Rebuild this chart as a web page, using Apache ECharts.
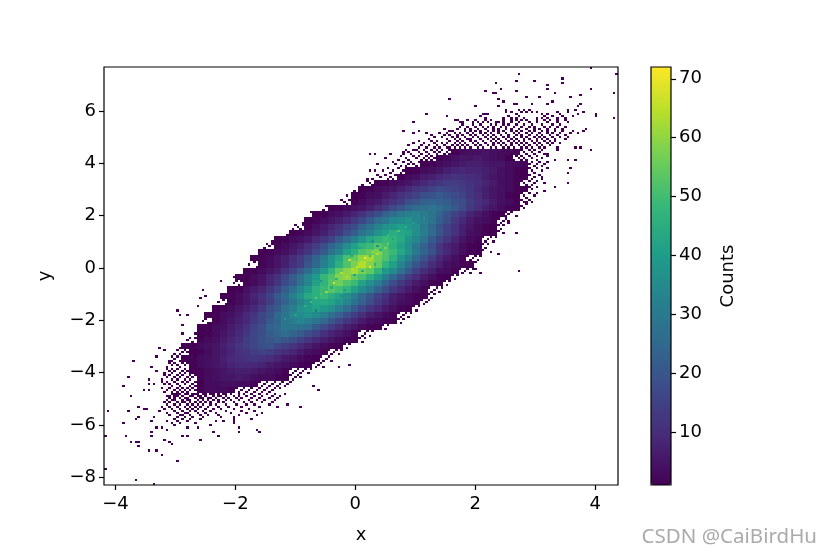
<!DOCTYPE html>
<html><head><meta charset="utf-8">
<style>html,body{margin:0;padding:0;background:#fff}#c{width:831px;height:554px}</style>
<script src="https://cdn.jsdelivr.net/npm/echarts@6/dist/echarts.min.js"></script>
</head><body><div id="c"></div>
<script>
const xTicks=[-4,-2,0,2,4];
const yTicks=[-8,-6,-4,-2,0,2,4,6];
const cbTicks=[10,20,30,40,50,60,70];
const viridis=['#440154','#482878','#3e4989','#31688e','#26828e','#1f9e89','#35b779','#6ece58','#b5de2b','#fde725'];
const xRange=[-4.19,4.38], yRange=[-8.3,7.69], countRange=[1,72];
const binsPerSide=200, blockBins=3;
// block rows: [row, firstColumn, counts...]; each block spans 3x3 histogram bins
const blockRows=[
[13,45,1,3,4,4,5,4,3,3,2],
[14,43,2,3,4,5,5,6,5,4,3,1],
[15,41,1,2,3,4,5,6,7,7,6,5,5,3,3,2],
[16,39,1,2,3,4,5,7,8,9,8,8,7,6,4,3,2,1],
[17,37,0,2,3,4,6,7,9,10,12,11,10,9,7,5,4,3,2,1],
[18,35,1,2,3,4,5,7,9,11,12,14,14,13,11,10,8,6,4,3,2,0],
[19,33,1,2,3,4,5,7,9,12,13,15,17,16,15,14,12,9,7,5,4,3,2,1],
[20,32,1,2,3,4,6,8,11,13,15,18,19,21,19,17,15,12,10,7,5,4,2,1],
[21,31,0,2,3,5,6,9,11,14,18,20,23,24,23,22,19,18,14,11,9,6,4,3,2,0],
[22,29,1,2,3,4,5,7,10,13,17,20,24,26,27,29,26,24,21,17,13,10,7,5,3,2,1],
[23,27,1,2,3,4,6,8,11,15,18,23,26,30,31,33,30,28,24,19,15,12,8,6,4,2,1],
[24,26,1,2,3,5,7,9,13,16,21,26,29,34,35,37,34,31,28,22,18,13,9,6,4,3,2,0],
[25,25,0,2,4,6,8,11,15,18,24,28,33,37,39,41,38,36,30,25,19,15,11,7,5,3,2,1],
[26,24,1,2,3,5,7,10,13,18,22,28,32,38,41,45,43,42,36,31,26,20,15,11,7,4,3,2,1],
[27,22,1,2,3,4,6,9,12,15,21,26,32,37,43,46,49,47,44,38,34,27,21,16,12,8,5,3,2,0],
[28,21,0,2,3,5,7,10,14,18,24,29,36,41,47,49,53,50,46,41,36,29,23,18,12,8,6,3,2,1],
[29,20,1,2,3,4,6,9,12,17,21,28,33,41,46,52,54,58,52,49,43,37,30,24,19,13,9,6,4,2,1],
[30,19,1,2,3,5,7,10,14,18,24,30,37,43,51,55,60,62,56,52,46,38,32,25,19,14,9,6,4,2,0],
[31,19,0,2,3,5,7,11,14,20,25,32,38,46,52,58,64,59,55,47,41,33,26,20,15,10,7,4,3,2,1],
[32,18,1,2,3,5,7,11,15,21,26,33,39,47,54,59,62,57,54,47,40,35,27,21,15,10,7,4,3,2,0],
[33,17,1,2,3,5,8,11,16,22,27,34,40,48,52,58,60,55,51,45,39,31,25,19,14,10,6,4,2,1],
[34,17,0,2,3,5,8,12,17,21,28,34,42,47,53,56,52,49,42,36,31,24,18,13,9,6,4,2,1],
[35,16,1,2,4,6,8,12,16,22,27,34,39,46,49,53,50,47,41,35,30,23,18,13,9,6,4,2,0],
[36,15,1,2,3,5,8,11,15,21,25,32,37,44,46,49,45,42,36,31,25,20,15,11,7,5,3,2,1],
[37,15,0,2,3,5,7,10,14,19,23,28,34,38,43,44,42,38,34,28,23,18,13,9,6,4,3,2,0],
[38,14,1,2,3,5,7,9,13,18,21,27,31,37,39,42,39,36,31,26,21,16,12,9,6,4,2,1],
[39,13,1,2,3,4,6,9,12,16,19,25,28,33,35,38,35,32,27,23,18,14,10,7,5,3,2,0],
[40,13,0,2,3,5,7,9,13,16,21,24,29,31,34,31,28,25,20,16,12,9,6,4,3,2,1],
[41,12,1,2,3,4,6,8,11,15,18,23,25,29,29,27,26,21,17,14,10,7,5,3,2,1],
[42,12,1,2,3,5,7,9,12,16,18,22,24,26,24,21,18,15,11,8,6,4,2,0],
[43,11,0,2,3,4,6,8,10,14,16,19,20,22,20,18,15,12,9,7,5,3,2,1],
[44,10,1,2,3,4,5,7,9,12,14,16,18,19,16,14,12,9,7,5,3,2,1],
[45,11,1,2,3,5,6,8,11,12,14,15,14,12,10,8,6,4,3,2,0],
[46,10,1,2,3,4,5,7,9,10,11,12,11,10,8,6,5,3,2,1],
[47,10,0,2,3,4,5,6,8,9,9,9,8,6,5,4,3,2,1],
[48,11,1,2,3,4,5,6,7,7,6,5,4,3,2,0],
[49,11,0,2,3,4,5,5,6,5,4,3,3,2,1],
[50,12,1,3,3,4,4,3,3,2],
[51,12,1,3,3,3,2]
];
// single occupied histogram bins in the outer fringe: [binRow, binColumn, binColumn...], count 1 each
const sparseRows=[
[0,189],[3,161,199],[5,178],[6,160,167],[7,152,178],[8,172],[10,154,172,189],[11,148,160],
[12,151,152,175,198],[13,185],[14,164,169,181],[15,134,153],[16,155,174],[17,159,160,166,172,185],[18,144,153,184],
[20,156,161,163,165,180,183],[21,156,158,162,164,166,168,176,180,186],
[22,125,147,148,149,160,170,172,177,184,191],[23,133,146,157,161,171,174,178,182,191],
[24,148,155,158,160,163,168,170,172,176,179,198],
[25,136,137,141,144,148,150,155,158,160,162,164,168,171,173,176,179],
[26,120,138,139,143,145,147,149,152,153,155,158,161,165,168,172,176,180],
[27,139,143,146,150,152,155,157,160,163,166,170,174,177],
[28,138,141,144,147,149,151,154,156,159,162,165,167,171,173,176,179],
[29,132,137,140,142,145,148,151,153,156,158,161,164,167,169,172,175,178,187],
[30,116,122,134,135,140,142,144,146,149,151,153,155,158,160,162,165,167,170,172,175,178,182,186],
[31,120,125,130,133,136,138,141,143,146,148,150,153,156,159,161,164,166,169,172,174,177,181,184],
[32,127,132,134,137,139,142,144,147,149,151,154,157,160,162,165,168,170,173,176,179],
[33,128,131,135,137,140,143,145,148,150,152,155,157,159,162,164,167,169,171,174,177,180],
[34,126,133,136,138,141,142,146,149,151,153,156,158,160,163,165,168,170,172,175,179],
[35,122,127,129,134,137,139,142,144,147,150,152,154,157,159,161,163,166,168,171,173,175],
[36,120,124,128,131,133,136,138,140,143,145,148,151,153,155,158,160,162,164,167,169,172,174,177],
[37,118,123,126,129,132,135,137,139,141,144,146,149,151,154,156,158,161,163,165,168,170,173],
[38,122,125,128,130,133,134,136,138,140,142,145,147,150,152,155,157,159,162,164,166,169,171,176,183,185],
[39,121,176,189],[40,116],[41,103,105,111,172],[43,109],[44,175,180,183],[46,106],[48,181],[49,103,105],[50,180],[52,170],[53,102],
[55,171,180],[57,175],[59,171],[60,168],[61,167],[64,164],[71,160],[73,157],[79,160],[88,150],[89,153],[96,144],[97,161],[98,146],
[100,50],[102,45],[106,38],[109,39],[110,37],[114,36],[116,28],[118,29,32],[123,30],[127,30],[134,21],[135,23],[138,20],[140,11,25],
[142,95],[143,18,91],[145,20],[148,9],[149,17],[151,17,19],[152,7,81],[154,15,17,83],
[156,26,27,28,29,31,32,34,35,36,38,39,41,42,44,46,47,49,52,54,57,60,63,66,70],
[157,10,24,25,27,28,30,33,34,36,37,39,42,44,45,47,50,52,55,58,61,65,68],
[158,25,27,29,31,32,35,37,38,40,41,43,46,48,51,53,57,60,64,67],
[159,24,26,27,30,32,33,36,38,40,42,44,47,49,52,56,59,62,66],
[160,23,25,28,30,31,33,35,37,39,41,44,46,50,54,57,61,65],
[161,24,27,29,32,34,36,38,41,43,47,51,55,58,64,71],
[162,13,22,25,28,31,33,35,37,40,44,48,53,60,67,76],
[163,15,16,23,26,29,32,34,36,39,42,45,50,56],
[164,1,9,21,27,30,33,35,38,41,47,53,58],
[165,24,28,31,32,36,39,43,49,55,61],
[166,25,29,30,33,37,40,44,52,59],
[167,13,19,28,31,34,38,45,50],
[168,12,27,30,33,37,50,57],
[169,18,24,28,32,43,46,50],
[170,7,26,29,35,50],[171,27,41],[172,20,22,32,36,52],[173,24,59],[174,18,42,52,60],
[176,0,8,18,30,32,44],[178,23,37],[179,10,12,13,25],[180,26],[181,13],[183,17,20],[185,22],[188,28],[192,0],[197,12],[199,19]
];
// single occupied bins along both flanks of the body
const flankRows=[
[39,117,120,124,127,129,131,134,136,160,162,165,167,170],[40,118,122,125,128,130,133,135,137,159,161,163,166,169],
[41,116,119,123,126,129,132,134,136,158,160,164,167,171],[42,115,120,122,125,127,130,131,160,162,165,168,172],
[43,117,121,124,126,128,129,158,161,163,166,170],[44,114,118,123,125,127,130,157,159,162,164,168],
[45,112,116,119,122,125,127,164,166,169,172],[46,113,118,120,124,126,128,163,165,168,171],
[47,115,117,121,123,125,128,163,167,170],[48,110,114,118,120,122,160,162,165,168,172],
[49,108,112,116,119,121,160,163,166,170],[50,111,115,117,120,122,161,164,167],
[51,106,109,113,115,116,160,162,165,169],[52,107,111,114,116,161,163,167],
[53,104,110,112,115,160,164,166,170],[54,102,105,108,110,160,162,165,168],
[55,103,107,109,161,163,167],[56,100,104,106,110,160,164,166],[57,99,102,104,160,162,165,168],
[58,101,103,161,163,166],[59,97,100,104,160,164],[60,96,99,101,157,159,162,165],
[61,94,98,100,158,160,163],[62,97,99,101,157,161,164],[63,92,95,98,160,162,165],
[64,93,96,160,163,166],[65,94,97,161,164],[66,86,89,91,157,159,162],[67,87,90,92,158,160,163],
[68,85,88,91,157,161],[69,80,83,85,151,153,156,158],[70,81,84,86,152,155,157],[71,82,85,151,154,156],
[72,78,80,83,151,153,156],[73,79,81,152,155],[74,77,82,151,154,157],[75,74,77,79,148,150,153,155],
[76,75,78,80,149,152],[77,73,76,79,148,151,154],[78,72,74,77,148,150,153],[79,73,76,149,152,155],
[80,71,75,148,151],[81,66,68,70,145,147,150,152],[82,67,69,71,146,149],[83,65,70,145,148,151],
[84,63,65,68,142,144,147,149],[85,64,67,143,146],[86,62,66,142,145,148],[87,61,63,65,142,144,147],
[88,60,64,143,146],[89,62,65,142,145],[90,58,60,62,139,141,144,146],[91,59,61,140,143],
[92,57,60,139,142,145],[93,58,61,139,141,144],[94,56,60,140,143],[95,59,62,139,142],
[96,55,57,59,136,138,141,143],[97,56,58,137,140],[98,54,58,136,139,142],[99,52,54,56,130,132,135,137],
[100,53,55,131,134],[101,51,55,130,133,136],[102,51,53,55,127,129,132,134],[103,50,54,128,131],
[104,52,56,127,130,133],[105,49,51,53,124,126,129,131],[106,48,52,125,128],[107,50,53,124,127,130],
[108,46,48,50,121,123,126,128],[109,47,49,122,125],[110,45,50,121,124,127],[111,46,48,121,123,126],
[112,44,49,122,125],[113,47,50,121,124],[114,43,45,47,115,117,120,122],[115,42,46,116,119],
[116,44,47,115,118,121],[117,40,42,44,112,114,117,119],[118,41,43,113,116],[119,39,44,112,115,118],
[120,39,42,44,109,111,114,116],[121,38,43,110,113],[122,40,41,109,112,115],[123,37,39,41,103,105,108,110],
[124,36,40,104,107],[125,38,41,103,106,109],[126,36,39,41,97,99,102,104],[127,35,40,98,101],
[128,37,41,97,100,103],[129,33,35,38,94,96,99,101],[130,32,37,95,98],[131,34,36,94,97,100],
[132,30,32,35,88,90,93,95],[133,31,34,89,92],[134,29,33,88,91,94],[135,28,31,33,36,38,85,87,90,92],
[136,30,32,35,37,86,89],[137,27,29,34,36,85,88,91],[138,26,28,31,33,35,79,81,84,87],
[139,27,30,32,34,80,83,86],[140,26,29,33,35,79,82,85,88],[141,25,27,30,32,34,76,78,81,84],
[142,26,28,31,35,77,80,83],[143,24,29,33,34,76,79,82,85],[144,24,26,28,31,33,36,37,70,72,75,78,80],
[145,25,27,30,32,35,38,71,74,77],[146,23,26,29,31,34,37,70,73,76,79],[147,23,25,28,30,33,35,38,67,69,72,75],
[148,24,27,29,32,34,36,68,71,74,76],[149,22,26,28,31,33,37,67,70,73],[150,22,24,27,30,32,35,37,58,60,63,66,69,72],
[151,23,25,28,31,34,36,38,59,62,65,68,71],[152,26,29,33,35,37,58,61,64,67,70],
[153,22,25,28,30,32,34,36,38,49,51,54,57,60,63,66,68],[154,24,27,29,31,33,35,37,50,53,56,59,62,65],
[155,23,26,28,30,32,36,38,49,52,55,58,61,64]
];
// brightest single bins in the core: [binRow, binColumn, count]
const coreBins=[
[91,101,72],[95,103,70],[103,89,68],[95,98,66],[98,92,64],[92,95,66],[89,106,63],[107,86,60],[86,109,58],[78,114,52],[110,82,54],
[93,99,62],[97,100,45],[90,103,48],[88,104,60],[100,94,63],[101,90,47],[96,96,64],[94,105,46],[87,107,44],[84,110,56],[82,112,42],
[105,88,44],[104,91,58],[108,84,52],[112,80,50],[99,97,42],[92,108,50],[85,106,38],[106,93,40],[76,117,46],[80,110,48],[74,120,40],
[114,78,46],[118,74,42],[116,82,30],[120,70,38],[72,124,36],[83,104,36],[109,92,34],[96,108,34],[102,84,36],[90,96,40],[86,99,42]
];

const binW=(xRange[1]-xRange[0])/binsPerSide, binH=(yRange[1]-yRange[0])/binsPerSide;
const cells=[];
blockRows.forEach(row=>{
  const r=row[0], c0=row[1];
  row.slice(2).forEach((v,k)=>{
    if(v>0) cells.push([xRange[0]+binW*blockBins*(c0+k+.5), yRange[1]-binH*blockBins*(r+.5), v, binW*blockBins, binH*blockBins]);
  });
});
const addBin=(j,i,v)=>cells.push([xRange[0]+binW*(i+.5), yRange[1]-binH*(j+.5), v, binW, binH]);
sparseRows.concat(flankRows).forEach(row=>row.slice(1).forEach(i=>addBin(row[0],i,1)));
coreBins.forEach(b=>addBin(b[0],b[1],b[2]));

const fontFamily='"DejaVu Sans"', fs=18, ink='#000';
const minus=v=>String(v).replace('-','\u2212');
const axisCommon={
  axisLine:{show:false,onZero:false},
  splitLine:{show:false},
  nameTextStyle:{color:ink,fontFamily,fontSize:fs},
};
const tick=v=>({show:true,length:5,lineStyle:{color:ink,width:1.2},customValues:v});
const chart=echarts.init(document.getElementById('c'),null,{renderer:'canvas'});
chart.setOption({
  animation:false,
  backgroundColor:'#fff',
  grid:[
    {left:104,top:67,width:514,height:418,show:true,z:10,borderColor:ink,borderWidth:1.2,backgroundColor:'transparent'},
    {left:651,top:67,width:20,height:418,show:true,z:10,borderColor:ink,borderWidth:1.2,backgroundColor:'transparent'}
  ],
  xAxis:[
    {...axisCommon,type:'value',gridIndex:0,min:xRange[0],max:xRange[1],name:'x',nameLocation:'middle',nameGap:41,
     axisTick:tick(xTicks),
     axisLabel:{color:ink,fontFamily,fontSize:fs,margin:10,customValues:xTicks,formatter:minus}},
    {type:'value',gridIndex:1,min:0,max:1,show:false}
  ],
  yAxis:[
    {...axisCommon,type:'value',gridIndex:0,min:yRange[0],max:yRange[1],name:'y',nameLocation:'middle',nameGap:50,nameRotate:90,
     axisTick:tick(yTicks),
     axisLabel:{color:ink,fontFamily,fontSize:fs,margin:8,padding:[6,0,0,0],customValues:yTicks,formatter:minus}},
    {...axisCommon,type:'value',gridIndex:1,position:'right',min:countRange[0],max:countRange[1],name:'Counts',nameLocation:'middle',nameGap:48,nameRotate:90,
     axisTick:tick(cbTicks),
     axisLabel:{color:ink,fontFamily,fontSize:fs,margin:8,padding:[6,0,0,0],customValues:cbTicks}}
  ],
  visualMap:{
    type:'continuous',min:countRange[0],max:countRange[1],dimension:2,seriesIndex:0,
    inRange:{color:viridis},
    left:651,top:67,itemWidth:20,itemHeight:418,padding:0,text:['',''],textGap:0,
    calculable:false,hoverLink:false,
    z:4
  },
  series:[{
    type:'custom',coordinateSystem:'cartesian2d',xAxisIndex:0,yAxisIndex:0,
    encode:{x:0,y:1},
    data:cells,
    renderItem:(params,api)=>{
      const x=api.value(0),y=api.value(1),w=api.value(3),h=api.value(4);
      const a=api.coord([x-w/2,y+h/2]), b=api.coord([x+w/2,y-h/2]);
      const x0=Math.round(a[0]),y0=Math.round(a[1]);
      return {type:'rect',shape:{x:x0,y:y0,width:Math.round(b[0])-x0,height:Math.round(b[1])-y0},style:{fill:api.visual('color')}};
    }
  }],
  graphic:[{type:'text',right:14,top:527,style:{text:'CSDN @CaiBirdHu',fill:'#aaaaaa',fontFamily:'"Noto Sans"',fontSize:20.5}}]
});
</script></body></html>
